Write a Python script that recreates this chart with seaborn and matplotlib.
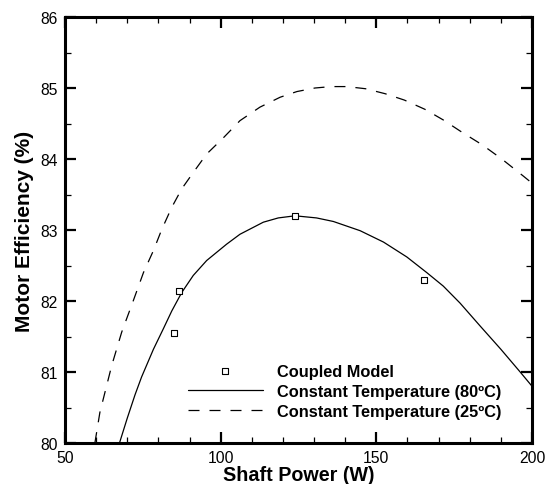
import numpy as np
import pandas as pd
import matplotlib
matplotlib.use("Agg")
import matplotlib.pyplot as plt
from matplotlib.ticker import MultipleLocator
import seaborn as sns

# ---- data ----
coupled_power = [84.9, 86.7, 124.0, 165.4]
coupled_eff = [81.55, 82.14, 83.20, 82.29]

t80_power = [67.5, 70.0, 72.5, 74.6, 78.4, 81.6, 84.3, 87.5, 91.2, 95.5, 101.9, 106.2, 113.7,
             118.5, 123.9, 130.8, 136.2, 144.8, 152.3, 159.8, 166.2, 171.5, 176.9, 183.3,
             190.0, 196.2, 200.0]
t80_eff = [80.0, 80.35, 80.68, 80.93, 81.32, 81.61, 81.86, 82.12, 82.36, 82.57, 82.80, 82.94,
           83.11, 83.17, 83.20, 83.17, 83.12, 82.99, 82.83, 82.62, 82.40, 82.21, 81.97, 81.65,
           81.32, 81.00, 80.80]

t25_power = [59.6, 61.2, 65.0, 68.2, 71.9, 75.2, 78.4, 81.1, 84.3, 87.5, 91.2, 95.5, 100.9,
             106.2, 112.6, 119.1, 124.5, 130.3, 135.5, 140.5, 146.5, 152.8, 159.0, 165.6,
             171.5, 177.4, 184.0, 190.3, 197.2, 200.0]
t25_eff = [80.0, 80.43, 81.09, 81.56, 82.00, 82.40, 82.71, 83.01, 83.32, 83.58, 83.81, 84.07,
           84.30, 84.54, 84.73, 84.87, 84.95, 85.00, 85.02, 85.02, 84.99, 84.92, 84.83, 84.70,
           84.55, 84.38, 84.20, 84.00, 83.76, 83.66]

labels = ["Coupled Model", "Constant Temperature (80ºC)", "Constant Temperature (25ºC)"]
x_label = "Shaft Power (W)"
y_label = "Motor Efficiency (%)"

# ---- style ----
sns.set_style("ticks")
plt.rcParams["font.family"] = ["Liberation Sans", "DejaVu Sans"]
plt.rcParams["text.color"] = "black"
plt.rcParams["axes.labelcolor"] = "black"

fig = plt.figure(figsize=(5.5, 4.85), dpi=100)
ax = fig.add_axes([65 / 550, 1 - 444 / 485, (532 - 65) / 550, (444 - 18) / 485])

df_c = pd.DataFrame({"p": coupled_power, "e": coupled_eff})
df_80 = pd.DataFrame({"p": t80_power, "e": t80_eff})
df_25 = pd.DataFrame({"p": t25_power, "e": t25_eff})

sns.scatterplot(data=df_c, x="p", y="e", ax=ax, marker="s", s=22,
                facecolor="white", edgecolor="black", linewidth=0.8,
                label=labels[0], zorder=3)
sns.lineplot(data=df_80, x="p", y="e", ax=ax, color="black", linewidth=0.9,
             label=labels[1], sort=False, estimator=None)
sns.lineplot(data=df_25, x="p", y="e", ax=ax, color="black", linewidth=0.9,
             label=labels[2], sort=False, estimator=None, dashes=False)
ax.lines[-1].set_dashes((8.8, 8.0))

ax.set_xlim(50, 200)
ax.set_ylim(80, 86)
ax.xaxis.set_major_locator(MultipleLocator(50))
ax.xaxis.set_minor_locator(MultipleLocator(10))
ax.yaxis.set_major_locator(MultipleLocator(1))
ax.yaxis.set_minor_locator(MultipleLocator(0.5))

for s in ax.spines.values():
    s.set_linewidth(2.2)
    s.set_color("black")
    s.set_visible(True)

ax.tick_params(which="both", direction="in", top=True, right=True, colors="black",
               labelsize=11.3)
ax.tick_params(which="major", length=8, width=1.6, pad=5)
ax.tick_params(which="minor", length=4.5, width=0.9)

ax.set_xlabel(x_label, fontsize=14.2, fontweight="bold", labelpad=0, color="black")
ax.set_ylabel(y_label, fontsize=15, fontweight="bold", labelpad=5, color="black")

handles, labs = ax.get_legend_handles_labels()
leg = ax.legend(handles, labs, loc="upper left", frameon=False,
                bbox_to_anchor=(188 / 550, 1 - 364.5 / 485), bbox_transform=fig.transFigure,
                borderaxespad=0, borderpad=0, handlelength=4.57, handletextpad=0.84,
                labelspacing=0.32, prop={"size": 11.8, "weight": "bold"},
                scatterpoints=1, labelcolor="black")

fig.savefig("out.png", dpi=100)
